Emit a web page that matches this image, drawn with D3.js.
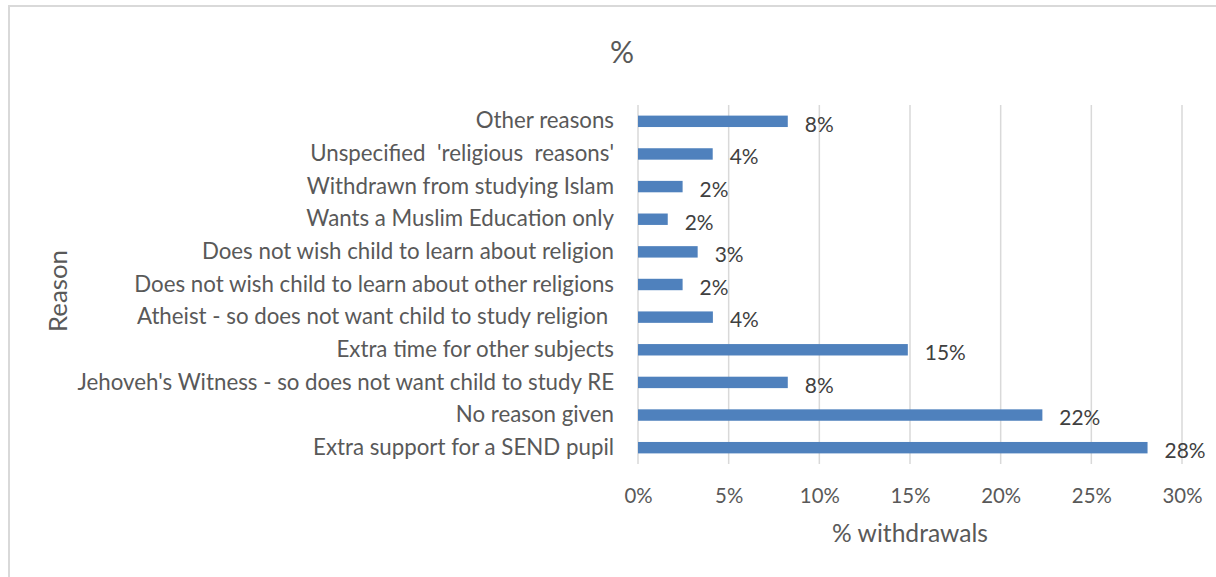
<!DOCTYPE html>
<html>
<head>
<meta charset="utf-8">
<script src="https://cdn.jsdelivr.net/npm/d3@7"></script>
<style>
  html, body { margin: 0; padding: 0; background: #fff; }
  svg text { font-family: Lato, "Open Sans", sans-serif; white-space: pre; }
</style>
</head>
<body>
<svg id="chart" width="1216" height="577"></svg>
<script>
const categories = [
  "Other reasons",
  "Unspecified  'religious  reasons'",
  "Withdrawn from studying Islam",
  "Wants a Muslim Education only",
  "Does not wish child to learn about religion",
  "Does not wish child to learn about other religions",
  "Atheist - so does not want child to study religion ",
  "Extra time for other subjects",
  "Jehoveh's Witness - so does not want child to study RE",
  "No reason given",
  "Extra support for a SEND pupil"
];
const values = [0.0826, 0.0412, 0.0246, 0.0164, 0.0329, 0.0246, 0.0413, 0.1488, 0.0826, 0.223, 0.281];
const xTicks = [0, 0.05, 0.10, 0.15, 0.20, 0.25, 0.30];
const chartTitle = "%";
const xTitle = "% withdrawals";
const yTitle = "Reason";

const svg = d3.select("#chart");
const W = 1216, H = 577;
const m = { left: 638, right: 1182, top: 105, bottom: 464 };
const pct = d3.format(".0%");

// helper: scale font of a selection so a reference node reaches a target width
function fit(sel, node, target, base) {
  const w = node.getComputedTextLength();
  sel.style("font-size", (base * target / w) + "px");
}

// frame
svg.append("rect").attr("x", 9).attr("y", 6).attr("width", W).attr("height", H)
  .attr("fill", "#fff").attr("stroke", "#d9d9d9").attr("stroke-width", 2);

const x = d3.scaleLinear().domain([0, 0.30]).range([m.left, m.right]);
const y = d3.scaleBand().domain(categories).range([m.top, m.bottom]).paddingInner(0.65).paddingOuter(0.325);

// gridlines
svg.append("g").selectAll("line").data(xTicks).join("line")
  .attr("x1", d => x(d)).attr("x2", d => x(d))
  .attr("y1", m.top).attr("y2", m.bottom)
  .attr("stroke", "#d9d9d9").attr("stroke-width", 1.5);

// x axis tick labels
const xAxis = d3.axisBottom(x).tickValues(xTicks).tickFormat(pct).tickSize(0).tickPadding(0);
const gx = svg.append("g").attr("transform", `translate(0, ${m.bottom + 25})`).call(xAxis);
gx.select(".domain").remove();
gx.selectAll("text").attr("fill", "#595959").style("font-size", "20px")
  .style("font-family", "Lato, sans-serif");
fit(gx.selectAll("text"), gx.selectAll("text").filter(d => d === 0.10).node(), 40, 20);

// bars
svg.append("g").selectAll("rect").data(categories).join("rect")
  .attr("x", x(0))
  .attr("y", d => y(d))
  .attr("width", (d, i) => x(values[i]) - x(0))
  .attr("height", y.bandwidth())
  .attr("fill", "#4f81bd");

// data labels
const dl = svg.append("g").selectAll("text").data(categories).join("text")
  .attr("x", (d, i) => x(values[i]) + 17)
  .attr("y", d => y(d) + y.bandwidth() / 2 + 3)
  .attr("dy", "0.35em")
  .attr("fill", "#404040")
  .style("font-size", "20px")
  .text((d, i) => pct(values[i]));
fit(dl, dl.filter((d, i) => i === 10).node(), 41, 20);

// y axis category labels
const yAxis = d3.axisLeft(y).tickSize(0).tickPadding(24);
const gy = svg.append("g").attr("transform", `translate(${m.left}, 0)`).call(yAxis);
gy.select(".domain").remove();
gy.selectAll("text").attr("fill", "#595959").style("font-size", "20px")
  .style("font-family", "Lato, sans-serif");
fit(gy.selectAll("text"), gy.selectAll("text").filter(d => d === categories[5]).node(), 480, 20);

// titles
svg.append("text").attr("x", 622).attr("y", 63).attr("text-anchor", "middle")
  .attr("fill", "#595959").style("font-size", "30px").text(chartTitle);
const xt = svg.append("text").attr("x", x(0.15)).attr("y", 542).attr("text-anchor", "middle")
  .attr("fill", "#595959").style("font-size", "22px").text(xTitle);
fit(xt, xt.node(), 156, 22);
const yt = svg.append("text").attr("transform", `translate(67, 291) rotate(-90)`)
  .attr("text-anchor", "middle").attr("fill", "#595959").style("font-size", "22px").text(yTitle);
fit(yt, yt.node(), 82, 22);
</script>
</body>
</html>
